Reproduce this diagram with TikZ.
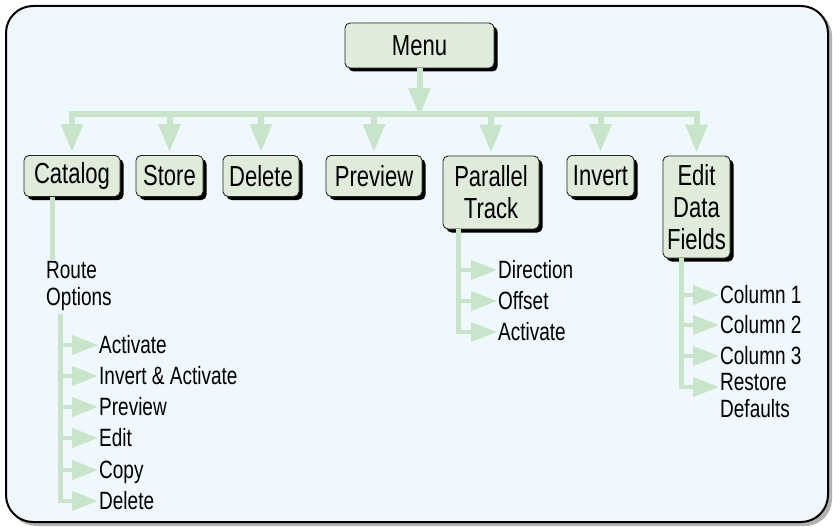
\documentclass[tikz,border=0pt]{standalone}
\usepackage{fontspec}
\setmainfont{Liberation Sans}[FakeStretch=0.76]
\usetikzlibrary{arrows.meta,shadows}
\definecolor{framebg}{HTML}{EEF8FD}
\definecolor{boxfill}{HTML}{E0ECDA}
\definecolor{linec}{HTML}{C9E5C9}
\tikzset{
  boxst/.style={draw=black!85, line width=0.9pt, fill=boxfill, rounded corners=5pt,
    inner sep=0pt, align=center, font=\fontsize{29}{32}\selectfont,
    general shadow={fill=black, shadow xshift=3.5pt, shadow yshift=-3.5pt}},
  item/.style={anchor=west, inner sep=0pt, align=left, text height=18pt, text depth=2pt,
    font=\fontsize{25}{27.5}\selectfont},
  busline/.style={draw=linec, line width=6pt},
  downarr/.style={draw=linec, line width=6pt, -{Triangle[length=28pt,width=21pt]}, shorten >=3pt},
  stemline/.style={draw=linec, line width=5pt},
  subarr/.style={draw=linec, line width=4pt, -{Triangle[length=26pt,width=19pt]}, shorten >=1pt},
}
\begin{document}
\begin{tikzpicture}[x=1pt,y=-1pt]
\useasboundingbox (0,0) rectangle (833,527);
% frame
\fill[black!30, rounded corners=27pt] (9,9) rectangle (832,526);
\draw[fill=framebg, line width=2pt, rounded corners=27pt] (6,6) rectangle (828,522);

% boxes
\node[boxst, minimum width=149pt, minimum height=45pt] (menu) at (419.5,45.5) {Menu};
\node[boxst, minimum width=96pt, minimum height=41pt] (catalog) at (72,176) {Catalog};
\node[boxst, minimum width=67pt, minimum height=41pt] (store) at (169.5,176) {Store};
\node[boxst, minimum width=76pt, minimum height=41pt] (delete) at (261,176) {Delete};
\node[boxst, minimum width=96pt, minimum height=41pt] (preview) at (374,176) {Preview};
\node[boxst, minimum width=96pt, minimum height=73pt] (parallel) at (491,192.5) {Parallel\\Track};
\node[boxst, minimum width=67pt, minimum height=41pt] (invert) at (600.5,176) {Invert};
\node[boxst, minimum width=67pt, minimum height=102pt] (edit) at (696.5,207) {Edit\\Data\\Fields};

% bus
\coordinate (bus) at (0,114);
\draw[busline, line cap=rect] (catalog.north |- bus) -- (edit.north |- bus);
\draw[downarr, shorten >=0pt] (menu.south) -- ([yshift=-2pt]menu.south |- bus);
\foreach \b in {catalog,store,delete,preview,parallel,invert,edit}{
  \draw[downarr] (\b.north |- bus) -- (\b.north);
}

% Catalog branch
\node[item, anchor=north west, text height=, text depth=] (ro) at (46,261) {Route\\Options};
\coordinate (cx) at (52,0);
\draw[stemline] (catalog.south -| cx) -- (ro.north -| cx);
\coordinate (rv) at (60,314);
\node[item] (r1) at (99,345) {Activate};
\node[item] (r2) at (99,376) {Invert \& Activate};
\node[item] (r3) at (99,407) {Preview};
\node[item] (r4) at (99,438) {Edit};
\node[item] (r5) at (99,470) {Copy};
\node[item] (r6) at (99,501) {Delete};
\foreach \i in {r1,r2,r3,r4,r5,r6}{
  \draw[subarr] (rv) |- (\i.west);
}
\draw[stemline] (rv) -- (rv |- r6.west);

% Parallel Track branch
\coordinate (pv) at (458,0);
\node[item] (p1) at (498,270) {Direction};
\node[item] (p2) at (498,301) {Offset};
\node[item] (p3) at (498,332) {Activate};
\foreach \i in {p1,p2,p3}{
  \draw[subarr] (parallel.south -| pv) |- (\i.west);
}
\draw[stemline] (parallel.south -| pv) -- (pv |- p3.west);

% Edit Data Fields branch
\coordinate (ev) at (681,0);
\node[item] (e1) at (720,295) {Column 1};
\node[item] (e2) at (720,325) {Column 2};
\node[item] (e3) at (720,356) {Column 3};
\node[item, anchor=north west, text height=, text depth=] (e4) at (720,373) {Restore\\Defaults};
\coordinate (e4p) at (0,387);
\foreach \i in {e1,e2,e3}{
  \draw[subarr] (edit.south -| ev) |- (\i.west);
}
\draw[subarr] (edit.south -| ev) |- (e4.west |- e4p);
\draw[stemline] (edit.south -| ev) -- (ev |- e4p);
\end{tikzpicture}
\end{document}
